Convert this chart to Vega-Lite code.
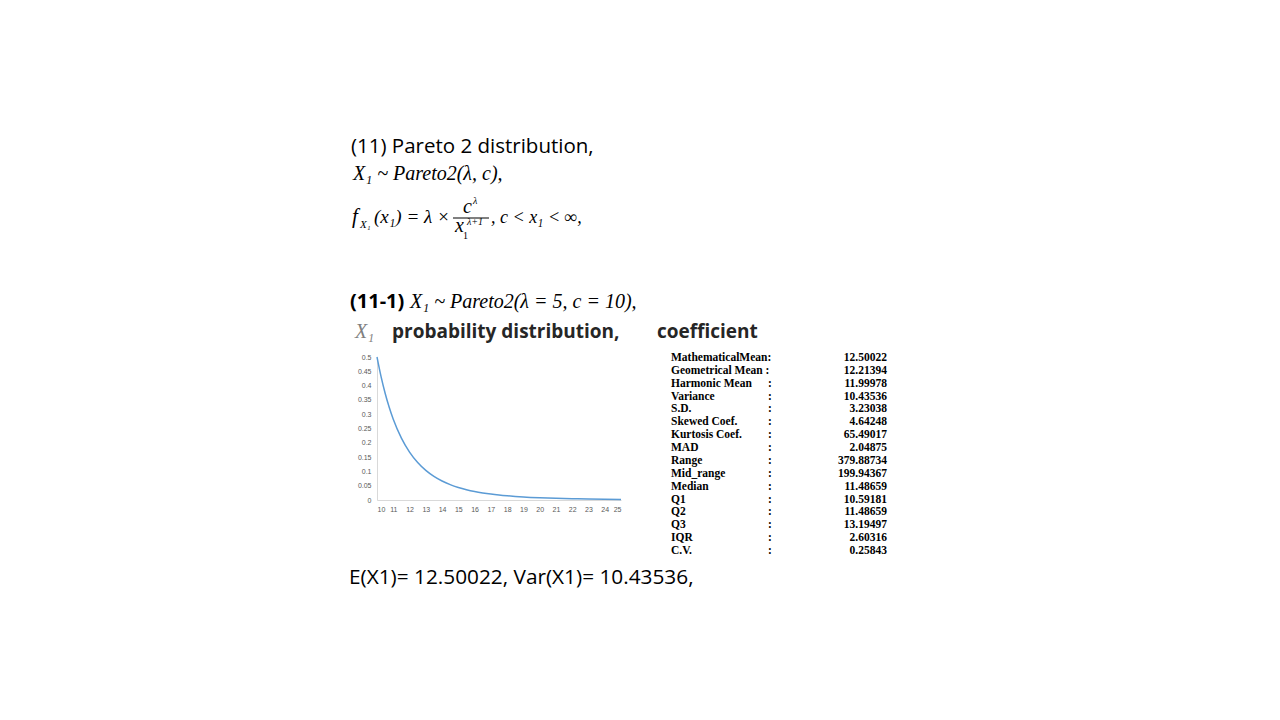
{
  "$schema": "https://vega.github.io/schema/vega-lite/v6.json",
  "width": 244,
  "height": 143,
  "autosize": {"type": "none"},
  "padding": {"left": 377, "top": 357, "right": 659, "bottom": 220},
  "background": "white",
  "config": {
    "view": {"stroke": null},
    "axis": {"labelFontSize": 7, "labelColor": "#595959", "ticks": false, "grid": false, "domainColor": "#d9d9d9", "labelFont": "Liberation Sans", "title": null},
    "axisX": {"labelPadding": 5},
    "axisY": {"labelPadding": 6}
  },
  "resolve": {"scale": {"y": "independent"}},
  "layer": [
    {
      "layer": [
        {
          "data": {"values": [
            {"x": 10, "density": 0.5},
            {"x": 10.25, "density": 0.4312},
            {"x": 10.5, "density": 0.3731},
            {"x": 10.75, "density": 0.324},
            {"x": 11, "density": 0.2822},
            {"x": 11.5, "density": 0.2162},
            {"x": 12, "density": 0.1674},
            {"x": 12.5, "density": 0.1311},
            {"x": 13, "density": 0.1036},
            {"x": 13.5, "density": 0.0826},
            {"x": 14, "density": 0.0664},
            {"x": 14.5, "density": 0.0538},
            {"x": 15, "density": 0.0439},
            {"x": 15.5, "density": 0.0361},
            {"x": 16, "density": 0.0298},
            {"x": 16.5, "density": 0.0248},
            {"x": 17, "density": 0.0207},
            {"x": 17.5, "density": 0.0174},
            {"x": 18, "density": 0.0147},
            {"x": 18.5, "density": 0.0125},
            {"x": 19, "density": 0.0106},
            {"x": 20, "density": 0.0078},
            {"x": 21, "density": 0.0058},
            {"x": 22, "density": 0.0044},
            {"x": 23, "density": 0.0034},
            {"x": 24, "density": 0.0026},
            {"x": 25, "density": 0.002}
          ]},
          "mark": {"type": "line", "color": "#5B9BD5", "strokeWidth": 1.5, "interpolate": "monotone"},
          "encoding": {
            "x": {"field": "x", "type": "quantitative", "title": null,
              "scale": {"domain": [10, 25], "nice": false, "zero": false},
              "axis": {"values": [10,11,12,13,14,15,16,17,18,19,20,21,22,23,24,25]}},
            "y": {"field": "density", "type": "quantitative", "title": null,
              "scale": {"domain": [0, 0.5], "nice": false},
              "axis": {"values": [0,0.05,0.1,0.15,0.2,0.25,0.3,0.35,0.4,0.45,0.5], "format": ".2~f"}}
          }
        },
        {
          "data": {"values": [{"t": "(11) Pareto 2 distribution,"}]},
          "mark": {"type": "text", "align": "left", "baseline": "alphabetic", "font": "Open Sans", "fontSize": 20.5, "color": "black"},
          "encoding": {"x": {"datum": 8.402, "type": "quantitative", "axis": {"values": [10,11,12,13,14,15,16,17,18,19,20,21,22,23,24,25]}}, "y": {"datum": 1.2133, "type": "quantitative", "axis": {"values": [0,0.05,0.1,0.15,0.2,0.25,0.3,0.35,0.4,0.45,0.5], "format": ".2~f"}}, "text": {"field": "t"}}
        },
        {
          "data": {"values": [{"t": "X₁ ~ Pareto2(λ, c),"}]},
          "mark": {"type": "text", "align": "left", "baseline": "alphabetic", "font": "Liberation Serif", "fontStyle": "italic", "fontSize": 20, "color": "black"},
          "encoding": {"x": {"datum": 8.525, "type": "quantitative", "axis": {"values": [10,11,12,13,14,15,16,17,18,19,20,21,22,23,24,25]}}, "y": {"datum": 1.1189, "type": "quantitative", "axis": {"values": [0,0.05,0.1,0.15,0.2,0.25,0.3,0.35,0.4,0.45,0.5], "format": ".2~f"}}, "text": {"field": "t"}}
        },
        {
          "data": {"values": [{"t": "f"}]},
          "mark": {"type": "text", "align": "left", "baseline": "alphabetic", "font": "Liberation Serif", "fontStyle": "italic", "fontSize": 21, "color": "black"},
          "encoding": {"x": {"datum": 8.463, "type": "quantitative", "axis": {"values": [10,11,12,13,14,15,16,17,18,19,20,21,22,23,24,25]}}, "y": {"datum": 0.9685, "type": "quantitative", "axis": {"values": [0,0.05,0.1,0.15,0.2,0.25,0.3,0.35,0.4,0.45,0.5], "format": ".2~f"}}, "text": {"field": "t"}}
        },
        {
          "data": {"values": [{"t": "X₁"}]},
          "mark": {"type": "text", "align": "left", "baseline": "alphabetic", "font": "Liberation Serif", "fontStyle": "italic", "fontSize": 11, "color": "black"},
          "encoding": {"x": {"datum": 8.955, "type": "quantitative", "axis": {"values": [10,11,12,13,14,15,16,17,18,19,20,21,22,23,24,25]}}, "y": {"datum": 0.951, "type": "quantitative", "axis": {"values": [0,0.05,0.1,0.15,0.2,0.25,0.3,0.35,0.4,0.45,0.5], "format": ".2~f"}}, "text": {"field": "t"}}
        },
        {
          "data": {"values": [{"t": "(x₁) = λ ×"}]},
          "mark": {"type": "text", "align": "left", "baseline": "alphabetic", "font": "Liberation Serif", "fontStyle": "italic", "fontSize": 19, "color": "black"},
          "encoding": {"x": {"datum": 9.816, "type": "quantitative", "axis": {"values": [10,11,12,13,14,15,16,17,18,19,20,21,22,23,24,25]}}, "y": {"datum": 0.9685, "type": "quantitative", "axis": {"values": [0,0.05,0.1,0.15,0.2,0.25,0.3,0.35,0.4,0.45,0.5], "format": ".2~f"}}, "text": {"field": "t"}}
        },
        {
          "data": {"values": [{"t": "c"}]},
          "mark": {"type": "text", "align": "left", "baseline": "alphabetic", "font": "Liberation Serif", "fontStyle": "italic", "fontSize": 20, "color": "black"},
          "encoding": {"x": {"datum": 15.287, "type": "quantitative", "axis": {"values": [10,11,12,13,14,15,16,17,18,19,20,21,22,23,24,25]}}, "y": {"datum": 1.0035, "type": "quantitative", "axis": {"values": [0,0.05,0.1,0.15,0.2,0.25,0.3,0.35,0.4,0.45,0.5], "format": ".2~f"}}, "text": {"field": "t"}}
        },
        {
          "data": {"values": [{"t": "λ"}]},
          "mark": {"type": "text", "align": "left", "baseline": "alphabetic", "font": "Liberation Serif", "fontStyle": "italic", "fontSize": 10, "color": "black"},
          "encoding": {"x": {"datum": 15.902, "type": "quantitative", "axis": {"values": [10,11,12,13,14,15,16,17,18,19,20,21,22,23,24,25]}}, "y": {"datum": 1.035, "type": "quantitative", "axis": {"values": [0,0.05,0.1,0.15,0.2,0.25,0.3,0.35,0.4,0.45,0.5], "format": ".2~f"}}, "text": {"field": "t"}}
        },
        {
          "data": {"values": [{"t": "bar"}]},
          "mark": {"type": "rule", "color": "black", "strokeWidth": 1},
          "encoding": {"x": {"datum": 14.672, "type": "quantitative", "axis": {"values": [10,11,12,13,14,15,16,17,18,19,20,21,22,23,24,25]}}, "x2": {"datum": 16.885}, "y": {"datum": 0.986, "type": "quantitative", "axis": {"values": [0,0.05,0.1,0.15,0.2,0.25,0.3,0.35,0.4,0.45,0.5], "format": ".2~f"}}}
        },
        {
          "data": {"values": [{"t": "x"}]},
          "mark": {"type": "text", "align": "left", "baseline": "alphabetic", "font": "Liberation Serif", "fontStyle": "italic", "fontSize": 20, "color": "black"},
          "encoding": {"x": {"datum": 14.795, "type": "quantitative", "axis": {"values": [10,11,12,13,14,15,16,17,18,19,20,21,22,23,24,25]}}, "y": {"datum": 0.9371, "type": "quantitative", "axis": {"values": [0,0.05,0.1,0.15,0.2,0.25,0.3,0.35,0.4,0.45,0.5], "format": ".2~f"}}, "text": {"field": "t"}}
        },
        {
          "data": {"values": [{"t": "1"}]},
          "mark": {"type": "text", "align": "left", "baseline": "alphabetic", "font": "Liberation Serif", "fontSize": 10, "color": "black"},
          "encoding": {"x": {"datum": 15.287, "type": "quantitative", "axis": {"values": [10,11,12,13,14,15,16,17,18,19,20,21,22,23,24,25]}}, "y": {"datum": 0.9126, "type": "quantitative", "axis": {"values": [0,0.05,0.1,0.15,0.2,0.25,0.3,0.35,0.4,0.45,0.5], "format": ".2~f"}}, "text": {"field": "t"}}
        },
        {
          "data": {"values": [{"t": "λ+1"}]},
          "mark": {"type": "text", "align": "left", "baseline": "alphabetic", "font": "Liberation Serif", "fontStyle": "italic", "fontSize": 10, "color": "black"},
          "encoding": {"x": {"datum": 15.533, "type": "quantitative", "axis": {"values": [10,11,12,13,14,15,16,17,18,19,20,21,22,23,24,25]}}, "y": {"datum": 0.9615, "type": "quantitative", "axis": {"values": [0,0.05,0.1,0.15,0.2,0.25,0.3,0.35,0.4,0.45,0.5], "format": ".2~f"}}, "text": {"field": "t"}}
        },
        {
          "data": {"values": [{"t": ", c < x₁ < ∞,"}]},
          "mark": {"type": "text", "align": "left", "baseline": "alphabetic", "font": "Liberation Serif", "fontStyle": "italic", "fontSize": 18, "color": "black"},
          "encoding": {"x": {"datum": 17.008, "type": "quantitative", "axis": {"values": [10,11,12,13,14,15,16,17,18,19,20,21,22,23,24,25]}}, "y": {"datum": 0.9685, "type": "quantitative", "axis": {"values": [0,0.05,0.1,0.15,0.2,0.25,0.3,0.35,0.4,0.45,0.5], "format": ".2~f"}}, "text": {"field": "t"}}
        },
        {
          "data": {"values": [{"t": "(11-1)"}]},
          "mark": {"type": "text", "align": "left", "baseline": "alphabetic", "font": "Open Sans", "fontWeight": "bold", "fontSize": 20, "color": "black"},
          "encoding": {"x": {"datum": 8.34, "type": "quantitative", "axis": {"values": [10,11,12,13,14,15,16,17,18,19,20,21,22,23,24,25]}}, "y": {"datum": 0.6713, "type": "quantitative", "axis": {"values": [0,0.05,0.1,0.15,0.2,0.25,0.3,0.35,0.4,0.45,0.5], "format": ".2~f"}}, "text": {"field": "t"}}
        },
        {
          "data": {"values": [{"t": "X₁ ~ Pareto2(λ = 5, c = 10),"}]},
          "mark": {"type": "text", "align": "left", "baseline": "alphabetic", "font": "Liberation Serif", "fontStyle": "italic", "fontSize": 20, "color": "black"},
          "encoding": {"x": {"datum": 12.029, "type": "quantitative", "axis": {"values": [10,11,12,13,14,15,16,17,18,19,20,21,22,23,24,25]}}, "y": {"datum": 0.6713, "type": "quantitative", "axis": {"values": [0,0.05,0.1,0.15,0.2,0.25,0.3,0.35,0.4,0.45,0.5], "format": ".2~f"}}, "text": {"field": "t"}}
        },
        {
          "data": {"values": [{"t": "X₁"}]},
          "mark": {"type": "text", "align": "left", "baseline": "alphabetic", "font": "Liberation Serif", "fontStyle": "italic", "fontSize": 20, "color": "#7f7f7f"},
          "encoding": {"x": {"datum": 8.648, "type": "quantitative", "axis": {"values": [10,11,12,13,14,15,16,17,18,19,20,21,22,23,24,25]}}, "y": {"datum": 0.5664, "type": "quantitative", "axis": {"values": [0,0.05,0.1,0.15,0.2,0.25,0.3,0.35,0.4,0.45,0.5], "format": ".2~f"}}, "text": {"field": "t"}}
        },
        {
          "data": {"values": [{"t": "probability distribution,"}]},
          "mark": {"type": "text", "align": "left", "baseline": "alphabetic", "font": "Open Sans", "fontWeight": "bold", "fontSize": 19, "color": "#262626"},
          "encoding": {"x": {"datum": 10.922, "type": "quantitative", "axis": {"values": [10,11,12,13,14,15,16,17,18,19,20,21,22,23,24,25]}}, "y": {"datum": 0.5664, "type": "quantitative", "axis": {"values": [0,0.05,0.1,0.15,0.2,0.25,0.3,0.35,0.4,0.45,0.5], "format": ".2~f"}}, "text": {"field": "t"}}
        },
        {
          "data": {"values": [{"t": "coefficient"}]},
          "mark": {"type": "text", "align": "left", "baseline": "alphabetic", "font": "Open Sans", "fontWeight": "bold", "fontSize": 19, "color": "#262626"},
          "encoding": {"x": {"datum": 27.213, "type": "quantitative", "axis": {"values": [10,11,12,13,14,15,16,17,18,19,20,21,22,23,24,25]}}, "y": {"datum": 0.5664, "type": "quantitative", "axis": {"values": [0,0.05,0.1,0.15,0.2,0.25,0.3,0.35,0.4,0.45,0.5], "format": ".2~f"}}, "text": {"field": "t"}}
        },
        {
          "data": {"values": [{"t": "E(X1)= 12.50022, Var(X1)= 10.43536,"}]},
          "mark": {"type": "text", "align": "left", "baseline": "alphabetic", "font": "Open Sans", "fontSize": 20.8, "color": "black"},
          "encoding": {"x": {"datum": 8.279, "type": "quantitative", "axis": {"values": [10,11,12,13,14,15,16,17,18,19,20,21,22,23,24,25]}}, "y": {"datum": -0.2937, "type": "quantitative", "axis": {"values": [0,0.05,0.1,0.15,0.2,0.25,0.3,0.35,0.4,0.45,0.5], "format": ".2~f"}}, "text": {"field": "t"}}
        }
      ]
    },
    {
      "data": {"values": [
        {"label": "MathematicalMean:", "colon": "", "value": "12.50022"},
        {"label": "Geometrical Mean :", "colon": "", "value": "12.21394"},
        {"label": "Harmonic Mean", "colon": ":", "value": "11.99978"},
        {"label": "Variance", "colon": ":", "value": "10.43536"},
        {"label": "S.D.", "colon": ":", "value": "3.23038"},
        {"label": "Skewed Coef.", "colon": ":", "value": "4.64248"},
        {"label": "Kurtosis Coef.", "colon": ":", "value": "65.49017"},
        {"label": "MAD", "colon": ":", "value": "2.04875"},
        {"label": "Range", "colon": ":", "value": "379.88734"},
        {"label": "Mid_range", "colon": ":", "value": "199.94367"},
        {"label": "Median", "colon": ":", "value": "11.48659"},
        {"label": "Q1", "colon": ":", "value": "10.59181"},
        {"label": "Q2", "colon": ":", "value": "11.48659"},
        {"label": "Q3", "colon": ":", "value": "13.19497"},
        {"label": "IQR", "colon": ":", "value": "2.60316"},
        {"label": "C.V.", "colon": ":", "value": "0.25843"}
      ]},
      "encoding": {
        "y": {"field": "label", "type": "nominal", "sort": null, "axis": null,
          "scale": {"type": "point", "range": [4, 197], "padding": 0}}
      },
      "layer": [
        {
          "mark": {"type": "text", "align": "left", "baseline": "alphabetic", "font": "Liberation Serif", "fontWeight": "bold", "fontSize": 11.5, "color": "black"},
          "encoding": {"x": {"datum": 28.073, "type": "quantitative", "axis": {"values": [10,11,12,13,14,15,16,17,18,19,20,21,22,23,24,25]}}, "text": {"field": "label"}}
        },
        {
          "mark": {"type": "text", "align": "left", "baseline": "alphabetic", "font": "Liberation Serif", "fontWeight": "bold", "fontSize": 11.5, "color": "black"},
          "encoding": {"x": {"datum": 34.036, "type": "quantitative", "axis": {"values": [10,11,12,13,14,15,16,17,18,19,20,21,22,23,24,25]}}, "text": {"field": "colon"}}
        },
        {
          "mark": {"type": "text", "align": "right", "baseline": "alphabetic", "font": "Liberation Serif", "fontWeight": "bold", "fontSize": 11.5, "color": "black"},
          "encoding": {"x": {"datum": 41.352, "type": "quantitative", "axis": {"values": [10,11,12,13,14,15,16,17,18,19,20,21,22,23,24,25]}}, "text": {"field": "value"}}
        }
      ]
    }
  ]
}
